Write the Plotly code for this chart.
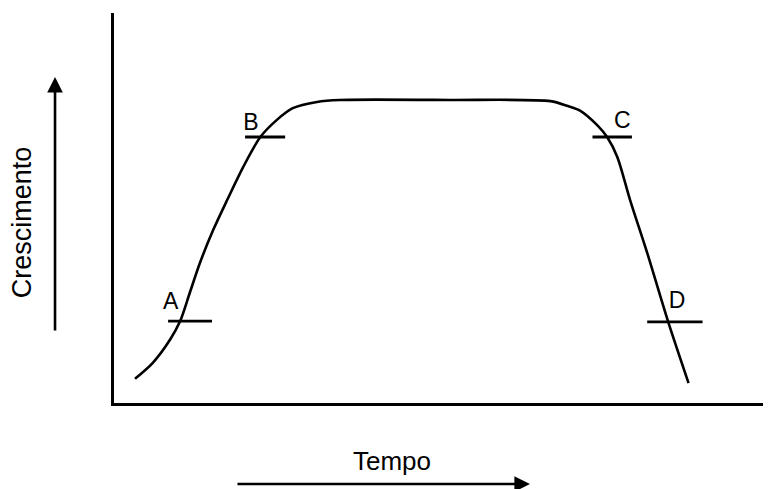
import plotly.graph_objects as go

# Growth curve (time vs. growth)
tempo = [3.3, 6.1, 8.8, 10.4, 11.9, 13.5, 15.6, 17.8, 20.3, 23.0, 25.6, 28.1, 31.9,
         35.5, 52.8, 68.6, 71.2, 73.3, 75.9, 77.5, 79.1, 81.1, 83.8, 87.1, 90.3]
crescimento = [6.2, 10.3, 16.2, 21.0, 28.2, 35.9, 44.4, 52.1, 60.5, 68.2, 72.6, 75.6, 77.2,
               77.7, 77.7, 77.4, 76.2, 74.9, 71.3, 68.2, 63.1, 52.1, 38.5, 20.8, 5.1]

# Marked points A-D: short horizontal bars and their labels
mark_names = ["A", "B", "C", "D"]
mark_x0 = [8.5, 20.6, 75.2, 83.8]
mark_x1 = [15.4, 26.9, 81.4, 92.5]
mark_y = [21.0, 68.2, 68.2, 20.8]
label_x = [8.9, 21.5, 79.9, 88.5]
label_y = [25.5, 71.5, 72.0, 25.8]

FONT = "Liberation Sans, Arial, sans-serif"

fig = go.Figure()
fig.add_trace(go.Scatter(x=tempo, y=crescimento, mode="lines",
                         line=dict(color="black", width=2.6, shape="spline", smoothing=0.8),
                         hoverinfo="skip", showlegend=False))
for x0, x1, y in zip(mark_x0, mark_x1, mark_y):
    fig.add_trace(go.Scatter(x=[x0, x1], y=[y, y], mode="lines",
                             line=dict(color="black", width=2.8),
                             hoverinfo="skip", showlegend=False))
fig.add_trace(go.Scatter(x=label_x, y=label_y, mode="text", text=mark_names,
                         textfont=dict(family=FONT, size=23, color="black"),
                         hoverinfo="skip", showlegend=False))

fig.update_xaxes(range=[0, 103.1], showline=True, linecolor="black", linewidth=3,
                 showgrid=False, zeroline=False, showticklabels=False, ticks="")
fig.update_yaxes(range=[0, 100], showline=True, linecolor="black", linewidth=3,
                 showgrid=False, zeroline=False, showticklabels=False, ticks="")

# Axis titles with arrows (placed in paper coordinates)
fig.add_annotation(xref="paper", yref="paper", x=-0.1399, y=0.4641,
                   xanchor="center", yanchor="middle",
                   text="Crescimento", textangle=-90, showarrow=False,
                   font=dict(family=FONT, size=27, color="black"))
fig.add_annotation(xref="paper", yref="paper", x=0.4245, y=-0.1487,
                   xanchor="center", yanchor="middle",
                   text="Tempo", showarrow=False,
                   font=dict(family=FONT, size=26, color="black"))
fig.add_annotation(xref="paper", yref="paper", x=-0.0899, y=0.8359, text="",
                   showarrow=True, ax=0, ay=255, arrowhead=2, arrowsize=1.2,
                   arrowwidth=2.6, arrowcolor="black")
fig.add_annotation(xref="paper", yref="paper", x=0.6341, y=-0.2077, text="",
                   showarrow=True, ax=-294, ay=0, arrowhead=2, arrowsize=1.2,
                   arrowwidth=2.6, arrowcolor="black")

# The page body adds an 8px offset; size/margins compensate for it
fig.update_layout(width=763, height=481, margin=dict(l=106, r=1, t=5, b=86),
                  paper_bgcolor="white", plot_bgcolor="white")
fig.write_html("out.html")
